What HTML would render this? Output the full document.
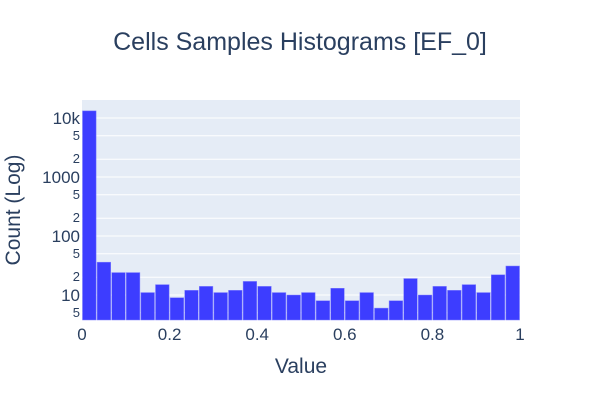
<!DOCTYPE html>
<html><head><meta charset="utf-8"><style>
body{margin:0;background:#fff;font-family:"Liberation Sans",sans-serif}
svg text{font-family:"Liberation Sans",sans-serif;fill:#2a3f5f}
</style></head><body>
<svg id="c" width="600" height="400">
<text x="300" y="50" text-anchor="middle" font-size="25">Cells Samples Histograms [EF_0]</text>
<rect x="82" y="100" width="438" height="220" fill="#e5ecf6"/>
<g id="grid"></g><g id="bars"></g><g id="yt"></g><g id="xt"></g>
<text x="301" y="373" text-anchor="middle" font-size="21">Value</text>
<text transform="translate(20,210) rotate(-90)" text-anchor="middle" font-size="21">Count (Log)</text>
</svg>
<script>
const counts=[13200,36,24,24,11,15,9,12,14,11,12,17,14,11,10,11,8,13,8,11,6,8,19,10,14,12,15,11,22,31];
const xTicks=[0,0.2,0.4,0.6,0.8,1];
const xTickLabels=["0","0.2","0.4","0.6","0.8","1"];
const yTicks=[5,10,20,50,100,200,500,1000,2000,5000,10000];
const yTickLabels=["5","10","2","5","100","2","5","1000","2","5","10k"];
const NS="http://www.w3.org/2000/svg";
const X0=82,X1=520,Y0=320,Y1=100;
const lmin=Math.log10(3.77),lmax=Math.log10(20180);
const xs=v=>X0+v*(X1-X0);
const ys=v=>Y0-(Math.log10(v)-lmin)/(lmax-lmin)*(Y0-Y1);
function mk(t,a,p){const e=document.createElementNS(NS,t);for(const k in a)e.setAttribute(k,a[k]);document.getElementById(p).appendChild(e);return e;}
yTicks.forEach((v,i)=>{const y=ys(v);
const g=mk('line',{x1:X0,x2:X1,y1:y,y2:y,stroke:'#fff','stroke-width':1},'grid');


const major=[10,100,1000,10000].includes(v);
const t=mk('text',{x:X0-2,y:y+(major?6:4),'text-anchor':'end','font-size':major?17:13},'yt');
t.textContent=yTickLabels[i];

});
const n=counts.length,w=1/n;
counts.forEach((c,i)=>{const x=xs(i*w),x2=xs((i+1)*w),y=ys(c);
const r=mk('rect',{x:x+0.5,y:y,width:x2-x-1,height:Y0-y,fill:'#3d3dff',stroke:'#8080ff','stroke-width':0.5},'bars');

});
xTicks.forEach((v,i)=>{const t=mk('text',{x:xs(v),y:340,'text-anchor':'middle','font-size':17},'xt');
t.textContent=xTickLabels[i];

});
</script>
</body></html>
